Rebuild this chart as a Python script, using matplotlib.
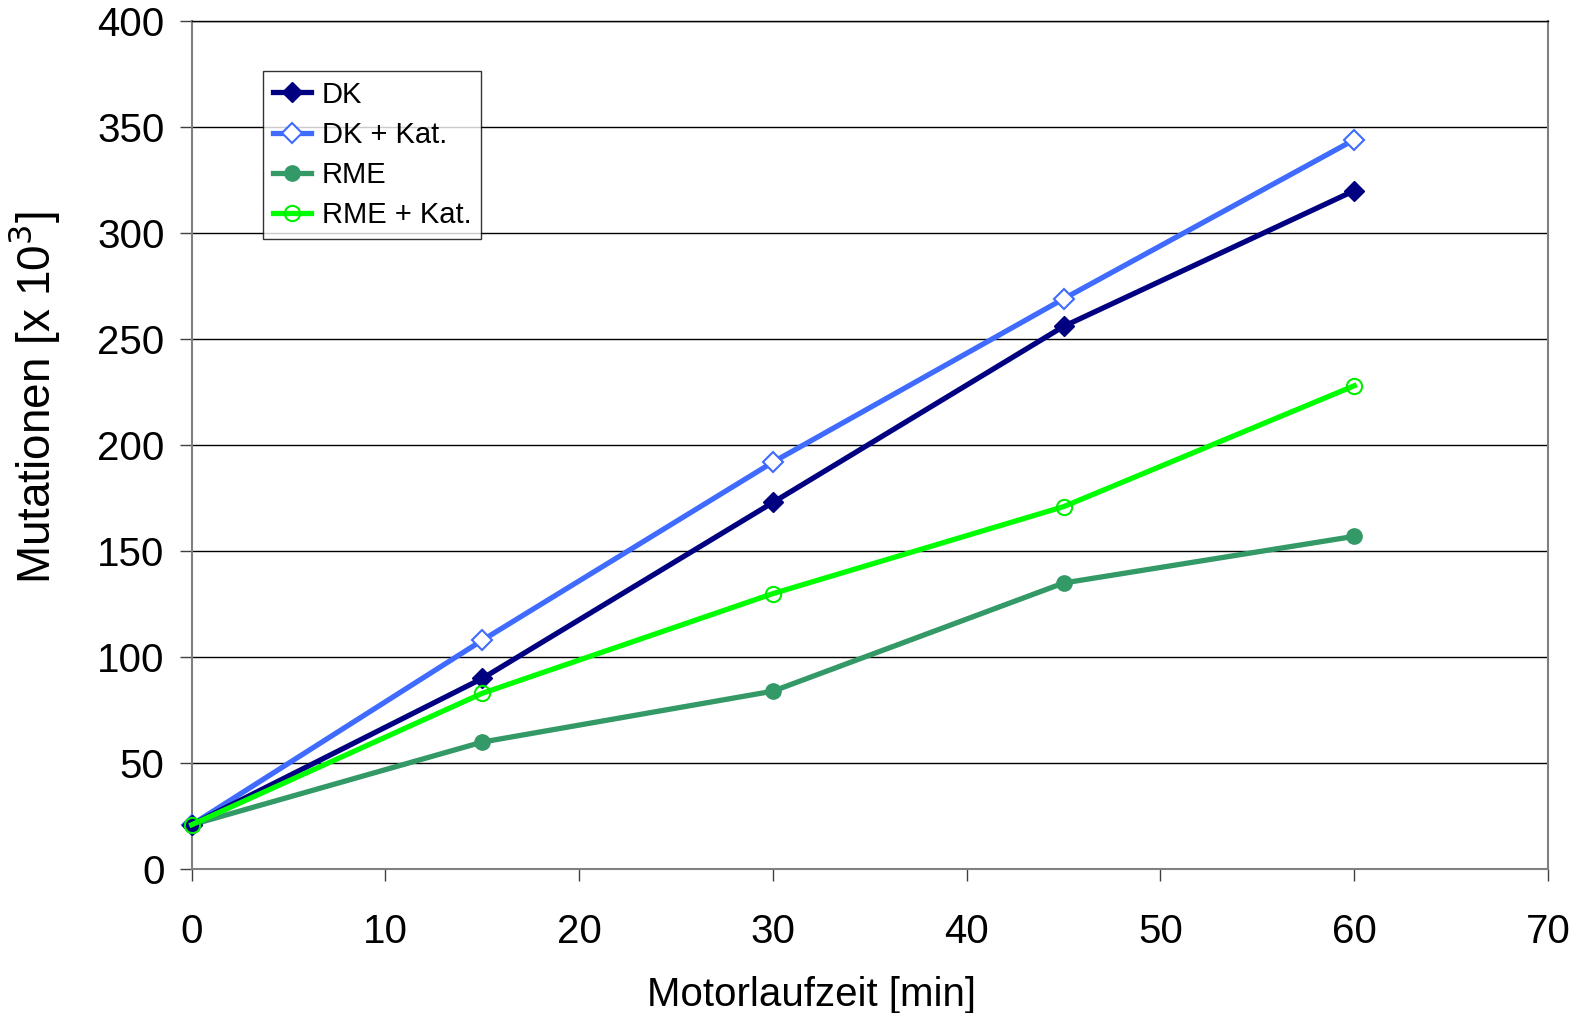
import matplotlib
matplotlib.use("Agg")
import matplotlib.pyplot as plt

plt.rcParams['font.family'] = ['Liberation Sans', 'DejaVu Sans']

minutes = [0, 15, 30, 45, 60]
dk = [21, 90, 173, 256, 320]
dk_kat = [21, 108, 192, 269, 344]
rme = [21, 60, 84, 135, 157]
rme_kat = [21, 83, 130, 171, 228]

x_ticks = [0, 10, 20, 30, 40, 50, 60, 70]
y_ticks = [0, 50, 100, 150, 200, 250, 300, 350, 400]

fig = plt.figure(figsize=(15.8, 10.13), dpi=100)
ax = fig.add_axes([191.7 / 1580, 1 - 869.3 / 1013, (1548 - 191.7) / 1580, (869.3 - 21) / 1013])

lw = 3.8
ms = 10
ax.plot(minutes, dk, color='#000080', lw=lw, marker='D', ms=ms, mfc='#000080', mec='#000080', label='DK', zorder=4, clip_on=False)
ax.plot(minutes, dk_kat, color='#3F6BFF', lw=lw, marker='D', ms=ms, mfc='white', mec='#3F6BFF', mew=1.5, label='DK + Kat.', zorder=3, clip_on=False)
ax.plot(minutes, rme, color='#339966', lw=lw, marker='o', ms=ms + 1, mfc='#339966', mec='#339966', label='RME', zorder=3, clip_on=False)
ax.plot(minutes, rme_kat, color='#00FF00', lw=lw, marker='o', ms=ms + 1, mfc='none', mec='#00EE00', mew=1.5, label='RME + Kat.', zorder=5, clip_on=False)

ax.set_xlim(0, 70)
ax.set_ylim(0, 400)
ax.set_xticks(x_ticks)
ax.set_yticks(y_ticks)
ax.yaxis.grid(True, color='black', lw=1.0)
ax.set_axisbelow(True)

for s in ['left', 'bottom', 'right']:
    ax.spines[s].set_color('#808080')
    ax.spines[s].set_linewidth(1.5)
ax.spines['top'].set_color('black')
ax.spines['top'].set_linewidth(1.0)

ax.tick_params(axis='both', which='major', direction='out', length=8.5, width=1.0, color='#404040', labelsize=29)
ax.tick_params(axis='y', pad=11)
ax.tick_params(axis='x', pad=23)

ax.set_xlabel('Motorlaufzeit [min]', fontsize=29)
ax.xaxis.set_label_coords(0.457, -0.126)
ax.xaxis.label.set_verticalalignment('top')
ax.set_ylabel('Mutationen [x 10$^{3}$]', fontsize=33)
ax.yaxis.set_label_coords(-0.0953, 0.556)

leg = ax.legend(loc='upper left', bbox_to_anchor=(263 / 1580, 1 - 71 / 1013), bbox_transform=fig.transFigure,
                fontsize=21, frameon=True, fancybox=False, borderaxespad=0, handlelength=1.3,
                handletextpad=0.38, labelspacing=0.42, borderpad=0.33)
leg.get_frame().set_edgecolor('black')
leg.get_frame().set_linewidth(1.0)

fig.savefig('out.png', dpi=100)
